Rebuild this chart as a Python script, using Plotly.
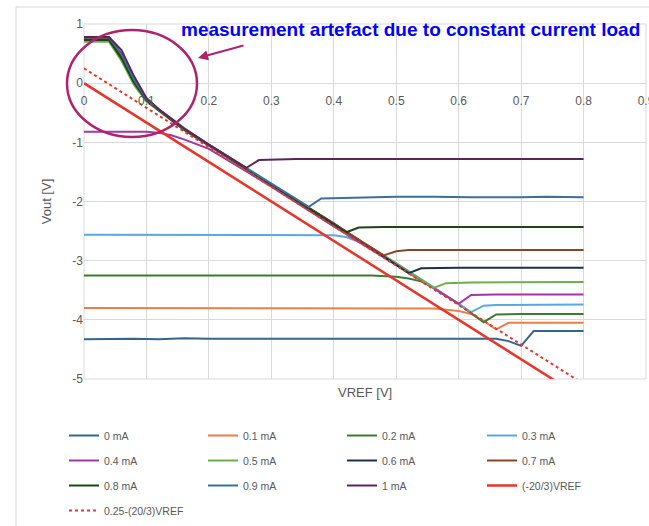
import plotly.graph_objects as go

# ---------------- data ----------------
names = ["0 mA", "0.1 mA", "0.2 mA", "0.3 mA", "0.4 mA", "0.5 mA",
         "0.6 mA", "0.7 mA", "0.8 mA", "0.9 mA", "1 mA"]

x_0mA = [0, 0.04, 0.08, 0.12, 0.16, 0.2, 0.24, 0.28, 0.32, 0.36, 0.40, 0.44, 0.48,
         0.52, 0.56, 0.60, 0.64, 0.66, 0.68, 0.70, 0.72, 0.76, 0.80]
y_0mA = [-4.33, -4.32, -4.32, -4.33, -4.31, -4.32, -4.32, -4.33, -4.32, -4.33, -4.33,
         -4.32, -4.32, -4.33, -4.32, -4.32, -4.33, -4.32, -4.36, -4.44, -4.19, -4.19, -4.19]

x_01mA = [0, 0.1, 0.2, 0.3, 0.4, 0.5, 0.56, 0.58, 0.60, 0.62, 0.64, 0.66, 0.68, 0.72, 0.8]
y_01mA = [-3.80, -3.80, -3.80, -3.80, -3.80, -3.80, -3.81, -3.83, -3.85, -3.90, -4.02,
          -4.16, -4.05, -4.05, -4.05]

x_02mA = [0, 0.1, 0.2, 0.3, 0.4, 0.46, 0.50, 0.52, 0.54, 0.56, 0.60, 0.64, 0.66, 0.70, 0.8]
y_02mA = [-3.25, -3.25, -3.25, -3.25, -3.25, -3.25, -3.27, -3.30, -3.35, -3.46, -3.73,
          -4.04, -3.91, -3.90, -3.90]

x_03mA = [0, 0.1, 0.2, 0.24, 0.3, 0.36, 0.40, 0.42, 0.44, 0.46, 0.50, 0.56, 0.62,
          0.64, 0.66, 0.8]
y_03mA = [-2.56, -2.56, -2.56, -2.57, -2.56, -2.56, -2.57, -2.60, -2.68, -2.78, -3.04,
          -3.45, -3.87, -3.76, -3.75, -3.74]

x_04mA = [0, 0.04, 0.06, 0.08, 0.10, 0.12, 0.14, 0.16, 0.20, 0.26, 0.30, 0.40, 0.50,
          0.60, 0.62, 0.66, 0.8]
y_04mA = [-0.82, -0.82, -0.83, -0.82, -0.82, -0.84, -0.88, -0.95, -1.11, -1.49, -1.75,
          -2.42, -3.08, -3.73, -3.58, -3.57, -3.57]

x_05mA = [0, 0.04, 0.06, 0.08, 0.10, 0.12, 0.14, 0.16, 0.20, 0.30, 0.40, 0.50, 0.56,
          0.58, 0.62, 0.8]
y_05mA = [0.70, 0.70, 0.38, -0.03, -0.31, -0.47, -0.63, -0.79, -1.06, -1.72, -2.38,
          -3.05, -3.46, -3.38, -3.37, -3.36]

x_06mA = [0, 0.04, 0.06, 0.08, 0.10, 0.12, 0.14, 0.16, 0.20, 0.30, 0.40, 0.52, 0.54,
          0.60, 0.8]
y_06mA = [0.77, 0.77, 0.48, 0.04, -0.28, -0.45, -0.61, -0.77, -1.04, -1.71, -2.37,
          -3.21, -3.13, -3.12, -3.12]

x_07mA = [0, 0.04, 0.06, 0.08, 0.10, 0.12, 0.14, 0.16, 0.20, 0.30, 0.40, 0.48, 0.50,
          0.52, 0.60, 0.70, 0.74, 0.8]
y_07mA = [0.75, 0.75, 0.46, 0.03, -0.28, -0.46, -0.62, -0.78, -1.05, -1.71, -2.38,
          -2.91, -2.84, -2.82, -2.82, -2.82, -2.81, -2.82]

x_08mA = [0, 0.04, 0.06, 0.08, 0.10, 0.12, 0.14, 0.16, 0.20, 0.30, 0.42, 0.44, 0.48, 0.8]
y_08mA = [0.73, 0.73, 0.42, 0.01, -0.29, -0.46, -0.62, -0.78, -1.05, -1.71, -2.52,
          -2.44, -2.43, -2.43]

x_09mA = [0, 0.04, 0.06, 0.08, 0.10, 0.12, 0.14, 0.16, 0.20, 0.30, 0.36, 0.38, 0.44,
          0.50, 0.56, 0.62, 0.70, 0.74, 0.8]
y_09mA = [0.77, 0.77, 0.50, 0.06, -0.27, -0.45, -0.61, -0.77, -1.04, -1.70, -2.09,
          -1.95, -1.93, -1.92, -1.92, -1.93, -1.93, -1.92, -1.93]

x_1mA = [0, 0.04, 0.06, 0.08, 0.10, 0.12, 0.14, 0.16, 0.20, 0.26, 0.28, 0.30, 0.34,
         0.40, 0.8]
y_1mA = [0.78, 0.78, 0.56, 0.12, -0.25, -0.44, -0.60, -0.76, -1.04, -1.43, -1.30,
         -1.29, -1.28, -1.28, -1.28]

x_ref = [0, 0.8]
y_ideal = [0, -5.333]          # (-20/3)VREF
y_offset = [0.25, -5.083]      # 0.25-(20/3)VREF

xs = [x_0mA, x_01mA, x_02mA, x_03mA, x_04mA, x_05mA, x_06mA, x_07mA, x_08mA, x_09mA, x_1mA]
ys = [y_0mA, y_01mA, y_02mA, y_03mA, y_04mA, y_05mA, y_06mA, y_07mA, y_08mA, y_09mA, y_1mA]

x_ticks = [0, 0.1, 0.2, 0.3, 0.4, 0.5, 0.6, 0.7, 0.8, 0.9]
y_ticks = [1, 0, -1, -2, -3, -4, -5]

# ---------------- styles ----------------
colors = ["#35658D", "#E9804A", "#3C7A30", "#5AA8DE", "#A236A4", "#6CB04A",
          "#1E3048", "#8B4524", "#1F4418", "#3B6F9F", "#5A2558"]
legend_of = ["legend", "legend2", "legend3", "legend4",
             "legend", "legend2", "legend3", "legend4",
             "legend", "legend2", "legend3"]
RED = "#E8352A"
GRID = "#D9D9D9"
GRAY = "#595959"
MAG = "#B0236C"

W, H = 649, 526
L, R, T, B = 84, 3, 24, 147
PW, PH = W - L - R, H - T - B


def px(xp):
    return (xp - L) / PW


def py(yp):
    return (H - B - yp) / PH


fig = go.Figure()
for i, n in enumerate(names):
    fig.add_trace(go.Scatter(x=xs[i], y=ys[i], mode="lines", name=n,
                             line=dict(color=colors[i], width=2),
                             legend=legend_of[i], legendgroup=n))
fig.add_trace(go.Scatter(x=x_ref, y=y_ideal, mode="lines", name="(-20/3)VREF",
                         line=dict(color=RED, width=2.5), legend="legend4",
                         legendgroup="ideal"))
fig.add_trace(go.Scatter(x=x_ref, y=y_offset, mode="lines", name="0.25-(20/3)VREF",
                         line=dict(color=RED, width=2, dash="dot"), legend="legend",
                         legendgroup="offset"))

leg_font = dict(family="Liberation Sans, Arial", size=10.5, color=GRAY)
leg_common = dict(orientation="v", xanchor="left", yanchor="top", y=py(421),
                  font=leg_font, tracegroupgap=6, bgcolor="rgba(0,0,0,0)",
                  itemclick=False, traceorder="grouped")
col_x = [64, 203, 342, 482]

fig.update_layout(
    width=W, height=H,
    margin=dict(l=L, r=R, t=T, b=B, autoexpand=False),
    paper_bgcolor="white", plot_bgcolor="white",
    font=dict(family="Liberation Sans, Arial", color=GRAY, size=12),
    showlegend=True,
    legend=dict(x=px(col_x[0]), **leg_common),
    legend2=dict(x=px(col_x[1]), **leg_common),
    legend3=dict(x=px(col_x[2]), **leg_common),
    legend4=dict(x=px(col_x[3]), **leg_common),
    xaxis=dict(range=[0, 0.9], tickvals=x_ticks, ticktext=[f"{v:g}" for v in x_ticks],
               showgrid=True, gridcolor=GRID, gridwidth=1, zeroline=False,
               showline=False, ticks="", anchor="free", position=5/6,
               ticklabelstandoff=9, ticklabeloverflow="allow",
               tickfont=dict(size=12, color=GRAY)),
    yaxis=dict(range=[-5, 1], tickvals=y_ticks, ticktext=[f"{v:g}" for v in y_ticks],
               showgrid=True, gridcolor=GRID, gridwidth=1, zeroline=False,
               showline=False, ticks="", domain=[0, 1],
               tickfont=dict(size=12, color=GRAY),
               title=dict(text="Vout [V]", font=dict(size=13, color=GRAY), standoff=17)),
)

# plot-area border and outer chart frame
fig.add_shape(type="rect", xref="paper", yref="paper", x0=0, x1=1, y0=0, y1=1,
              line=dict(color=GRID, width=1), layer="below")
fig.add_shape(type="rect", xref="paper", yref="paper", x0=px(16), x1=px(700),
              y0=py(560), y1=py(7), line=dict(color=GRID, width=1), layer="below")

# x axis title
fig.add_annotation(text="VREF [V]", xref="paper", yref="paper", x=px(365), y=py(392),
                   xanchor="center", yanchor="middle",
                   showarrow=False, font=dict(size=13, color=GRAY))

# callout
fig.add_annotation(text="<b>measurement artefact due to constant current load</b>",
                   xref="paper", yref="paper", x=px(410), y=py(30),
                   xanchor="center", yanchor="middle", showarrow=False,
                   font=dict(size=19, color="#0000FF",
                             family="Liberation Sans, Arial"))
fig.add_shape(type="circle", xref="paper", yref="paper", x0=px(67), x1=px(197),
              y0=py(137), y1=py(30), line=dict(color=MAG, width=2.5))
fig.add_annotation(text="", xref="paper", yref="paper", x=px(198), y=py(58),
                   ax=47, ay=-13, showarrow=True, arrowhead=2, arrowsize=1,
                   arrowwidth=2, arrowcolor=MAG)

fig.write_html("out.html")
